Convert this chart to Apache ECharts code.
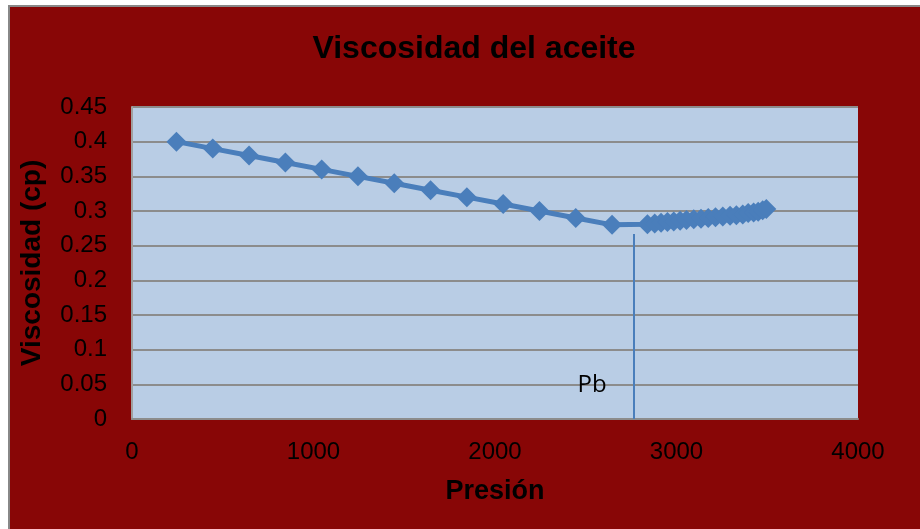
<!DOCTYPE html>
<html>
<head>
<meta charset="utf-8">
<script src="https://cdn.jsdelivr.net/npm/echarts@6/dist/echarts.min.js"></script>
<style>
  html, body { margin: 0; padding: 0; background: #ffffff; }
  #wrap { position: relative; width: 920px; height: 529px; overflow: hidden; background: #ffffff; }
  #frame { position: absolute; left: 8px; top: 5px; width: 930px; height: 540px;
           background: #880606; border-left: 2px solid #888888; border-top: 2px solid #888888; }
  #chart { position: absolute; left: 0; top: 0; width: 920px; height: 529px; }
</style>
</head>
<body>
<div id="wrap">
  <div id="frame"></div>
  <div id="chart"></div>
</div>
<script>
// Oil viscosity (cp) versus pressure (psi)
const pressure = [245, 445, 645, 845, 1045, 1245, 1445, 1645, 1845, 2045, 2245, 2445, 2645,
                  2840, 2880, 2915, 2950, 2985, 3020, 3055, 3095, 3135, 3175, 3215, 3255,
                  3295, 3330, 3365, 3395, 3425, 3450, 3475, 3495];
const viscosity = [0.40, 0.39, 0.38, 0.37, 0.36, 0.35, 0.34, 0.33, 0.32, 0.31, 0.30, 0.29, 0.28,
                   0.281, 0.282, 0.283, 0.284, 0.285, 0.286, 0.287, 0.288, 0.289, 0.290, 0.291, 0.292,
                   0.293, 0.294, 0.295, 0.297, 0.298, 0.299, 0.301, 0.303];

// Bubble-point pressure marker
const pbPressure = 2765;
const pbLineTop = 0.267;
const pbLabel = 'Pb';
const pbLabelAt = [2535, 0.049];

const xTicks = [0, 1000, 2000, 3000, 4000];
const yTicks = [0, 0.05, 0.1, 0.15, 0.2, 0.25, 0.3, 0.35, 0.4, 0.45];

const points = pressure.map((p, i) => [p, viscosity[i]]);

const chart = echarts.init(document.getElementById('chart'), null, { renderer: 'canvas' });
chart.setOption({
  backgroundColor: 'transparent',
  animation: false,
  title: {
    text: 'Viscosidad del aceite',
    left: 469, top: 28, textAlign: 'center',
    textStyle: { fontFamily: 'Liberation Sans', fontWeight: 'bold', fontSize: 32, color: '#000000' }
  },
  grid: {
    left: 132, right: 62, top: 107, bottom: 110,
    show: true, backgroundColor: '#B9CDE5', borderWidth: 0
  },
  xAxis: {
    type: 'value', min: xTicks[0], max: xTicks[xTicks.length - 1], interval: 1000,
    name: 'Presión', nameLocation: 'middle', nameGap: 59,
    nameTextStyle: { fontFamily: 'Liberation Sans', fontWeight: 'bold', fontSize: 27, color: '#000000' },
    axisLine: { show: true, lineStyle: { color: '#8c8c8c', width: 2 } },
    axisTick: { show: false },
    splitLine: { show: false },
    axisLabel: {
      margin: 21, fontFamily: 'Liberation Sans', fontSize: 24, color: '#000000',
      formatter: v => String(v)
    }
  },
  yAxis: {
    type: 'value', min: yTicks[0], max: yTicks[yTicks.length - 1], interval: 0.05,
    name: 'Viscosidad (cp)', nameLocation: 'middle', nameGap: 86, nameRotate: 90,
    nameTextStyle: { fontFamily: 'Liberation Sans', fontWeight: 'bold', fontSize: 28, color: '#000000' },
    axisLine: { show: true, lineStyle: { color: '#a0a0a0', width: 2 } },
    axisTick: { show: false },
    splitLine: { show: true, lineStyle: { color: '#8c8c8c', width: 2 } },
    axisLabel: {
      margin: 25, fontFamily: 'Liberation Sans', fontSize: 24, color: '#000000',
      formatter: v => String(+v.toFixed(2))
    }
  },
  series: [{
    type: 'line',
    data: points,
    symbol: 'diamond',
    symbolSize: 20,
    lineStyle: { color: '#4A7EBB', width: 5 },
    itemStyle: { color: '#4A7EBB' },
    markLine: {
      silent: true,
      symbol: ['none', 'none'],
      lineStyle: { color: '#4A7EBB', width: 2, type: 'solid' },
      label: { show: false },
      data: [[{ coord: [pbPressure, 0] }, { coord: [pbPressure, pbLineTop] }]]
    },
    markPoint: {
      silent: true,
      symbol: 'circle', symbolSize: 0,
      label: {
        show: true, position: 'inside', formatter: pbLabel,
        fontFamily: 'Open Sans', fontSize: 24, color: '#000000'
      },
      data: [{ coord: pbLabelAt }]
    }
  }]
});
</script>
</body>
</html>
